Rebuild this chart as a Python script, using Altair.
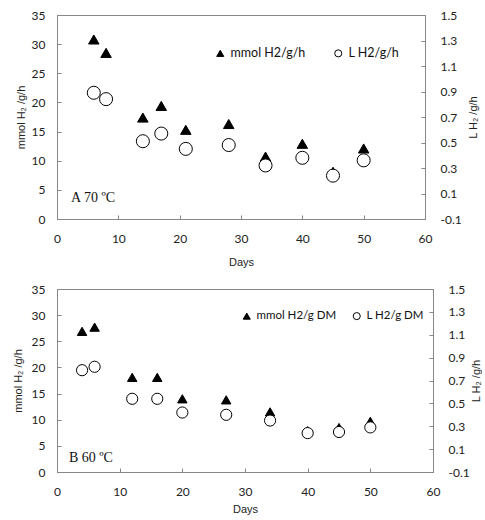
import altair as alt
import pandas as pd

# Panel A (70 oC)
days_a = [6, 8, 14, 17, 21, 28, 34, 40, 45, 50]
mmol_a = [30.8, 28.5, 17.4, 19.4, 15.3, 16.3, 10.7, 12.9, 8.1, 12.1]
L_a = [0.89, 0.84, 0.51, 0.57, 0.45, 0.48, 0.32, 0.38, 0.24, 0.36]
labels_a = ["mmol H2/g/h", "L H2/g/h"]
note_a = "A  70 ºC"

# Panel B (60 oC)
days_b = [4, 6, 12, 16, 20, 27, 34, 40, 45, 50]
mmol_b = [26.9, 27.7, 18.1, 18.1, 14.0, 13.8, 11.5, 7.9, 8.5, 9.7]
L_b = [0.79, 0.82, 0.54, 0.54, 0.42, 0.40, 0.35, 0.24, 0.25, 0.29]
labels_b = ["mmol H2/g DM", "L H2/g DM"]
note_b = "B  60 ºC"

x_ticks = [0, 10, 20, 30, 40, 50, 60]
left_ticks = [0, 5, 10, 15, 20, 25, 30, 35]
right_ticks = [-0.1, 0.1, 0.3, 0.5, 0.7, 0.9, 1.1, 1.3, 1.5]

LEFT_DOM = [0, 35]
RIGHT_DOM = [-0.1, 1.5]
GRAY = "#878787"


def panel(days, mmol, L, labels, note, note_pos, w, h, legx, legy, colpad, legfs,
          tri, circ, days_pad, ltitle_pad, rtitle_pad):
    n = len(days)
    df = pd.DataFrame({
        "day": days + days,
        "value": mmol + L,
        "series": [labels[0]] * n + [labels[1]] * n,
    })
    note_df = pd.DataFrame({"day": [note_pos[0]], "value": [note_pos[1]], "t": [note]})

    shape_scale = alt.Scale(domain=labels, range=["triangle-up", "circle"])
    fill_scale = alt.Scale(domain=labels, range=["black", "white"])
    stroke_scale = alt.Scale(domain=labels, range=["black", "black"])
    legend = alt.Legend(
        title=None, orient="none", legendX=legx, legendY=legy,
        direction="horizontal", symbolSize=50, symbolStrokeWidth=1,
        labelFont="Lato", labelFontSize=legfs,
        labelColor="#111", columnPadding=colpad, labelOffset=4,
    )
    xs = alt.Scale(domain=[0, 60], nice=False, zero=False)
    enc_legend = dict(
        shape=alt.Shape("series:N", scale=shape_scale, legend=legend),
        fill=alt.Fill("series:N", scale=fill_scale, legend=legend),
        stroke=alt.Stroke("series:N", scale=stroke_scale, legend=legend),
    )

    base = alt.Chart(df)
    left = base.transform_filter(alt.datum.series == labels[0]).mark_point(
        filled=True, strokeWidth=1, opacity=1, size=tri
    ).encode(
        x=alt.X("day:Q", scale=xs, axis=alt.Axis(
            values=x_ticks, title="Days", ticks=False, tickSize=0, labelPadding=14,
            titlePadding=days_pad, grid=False)),
        y=alt.Y("value:Q", scale=alt.Scale(domain=LEFT_DOM, nice=False), axis=alt.Axis(
            orient="left", values=left_ticks, title="mmol H₂ /g/h", ticks=False, tickSize=0,
            labelPadding=12, titlePadding=ltitle_pad, grid=False)),
        **enc_legend,
    )
    right = base.transform_filter(alt.datum.series == labels[1]).mark_point(
        filled=True, strokeWidth=1, opacity=1, size=circ
    ).encode(
        x=alt.X("day:Q", scale=xs, axis=None),
        y=alt.Y("value:Q", scale=alt.Scale(domain=RIGHT_DOM, nice=False), axis=alt.Axis(
            orient="right", values=right_ticks, title="L H₂ /g/h", ticks=False, tickSize=0,
            labelPadding=15, titlePadding=rtitle_pad, titleAngle=270, format=".1f",
            labelExpr="replace(datum.label, '\u2212', '-')", grid=False)),
        **enc_legend,
    )
    # text annotation; its axes give the inward ticks on the left and bottom edges
    txt = alt.Chart(note_df).mark_text(
        font="Liberation Serif", fontSize=14, align="left", baseline="alphabetic", color="#111"
    ).encode(
        x=alt.X("day:Q", scale=xs, axis=alt.Axis(
            orient="top", offset=-h, values=x_ticks, labels=False, domain=False,
            title=None, tickSize=4, grid=False)),
        y=alt.Y("value:Q", scale=alt.Scale(domain=LEFT_DOM, nice=False), axis=alt.Axis(
            orient="right", offset=-w, values=left_ticks, labels=False, domain=False,
            title=None, tickSize=4, grid=False)),
        text="t:N",
    )
    # invisible copy of right series: its axis gives inward ticks on the right edge
    rticks = base.transform_filter(alt.datum.series == labels[1]).mark_point(opacity=0).encode(
        x=alt.X("day:Q", scale=xs, axis=None),
        y=alt.Y("value:Q", scale=alt.Scale(domain=RIGHT_DOM, nice=False), axis=alt.Axis(
            orient="left", offset=-w, values=right_ticks, labels=False, domain=False,
            title=None, tickSize=4, grid=False)),
    )
    return alt.layer(left, right, txt, rticks).resolve_scale(
        y="independent"
    ).resolve_axis(x="independent", y="independent").properties(width=w, height=h)


top = panel(days_a, mmol_a, L_a, labels_a, note_a, (2.3, 3.0), 368, 204,
            157, 32, 26, 12.5, 110, 170, 12, 5, 17)
bot = panel(days_b, mmol_b, L_b, labels_b, note_b, (1.9, 2.0), 376, 183,
            184, 21, 14, 11.5, 90, 125, 6, 8, 12)

chart = alt.vconcat(top, bot, spacing=14).resolve_scale(
    shape="independent", fill="independent", stroke="independent"
).resolve_legend(shape="independent", fill="independent", stroke="independent").properties(
    padding={"top": 8, "left": 11, "right": 0, "bottom": 0}
).configure_axis(
    labelFont="Lato", labelFontSize=12, labelColor="#222", labelFlush=False,
    titleFont="Liberation Sans", titleFontSize=11, titleFontWeight="normal", titleColor="#222",
    domainColor=GRAY, tickColor=GRAY,
).configure_view(stroke=GRAY, strokeWidth=1)

chart.save("out.html", embed_options={"renderer": "svg", "actions": False})
